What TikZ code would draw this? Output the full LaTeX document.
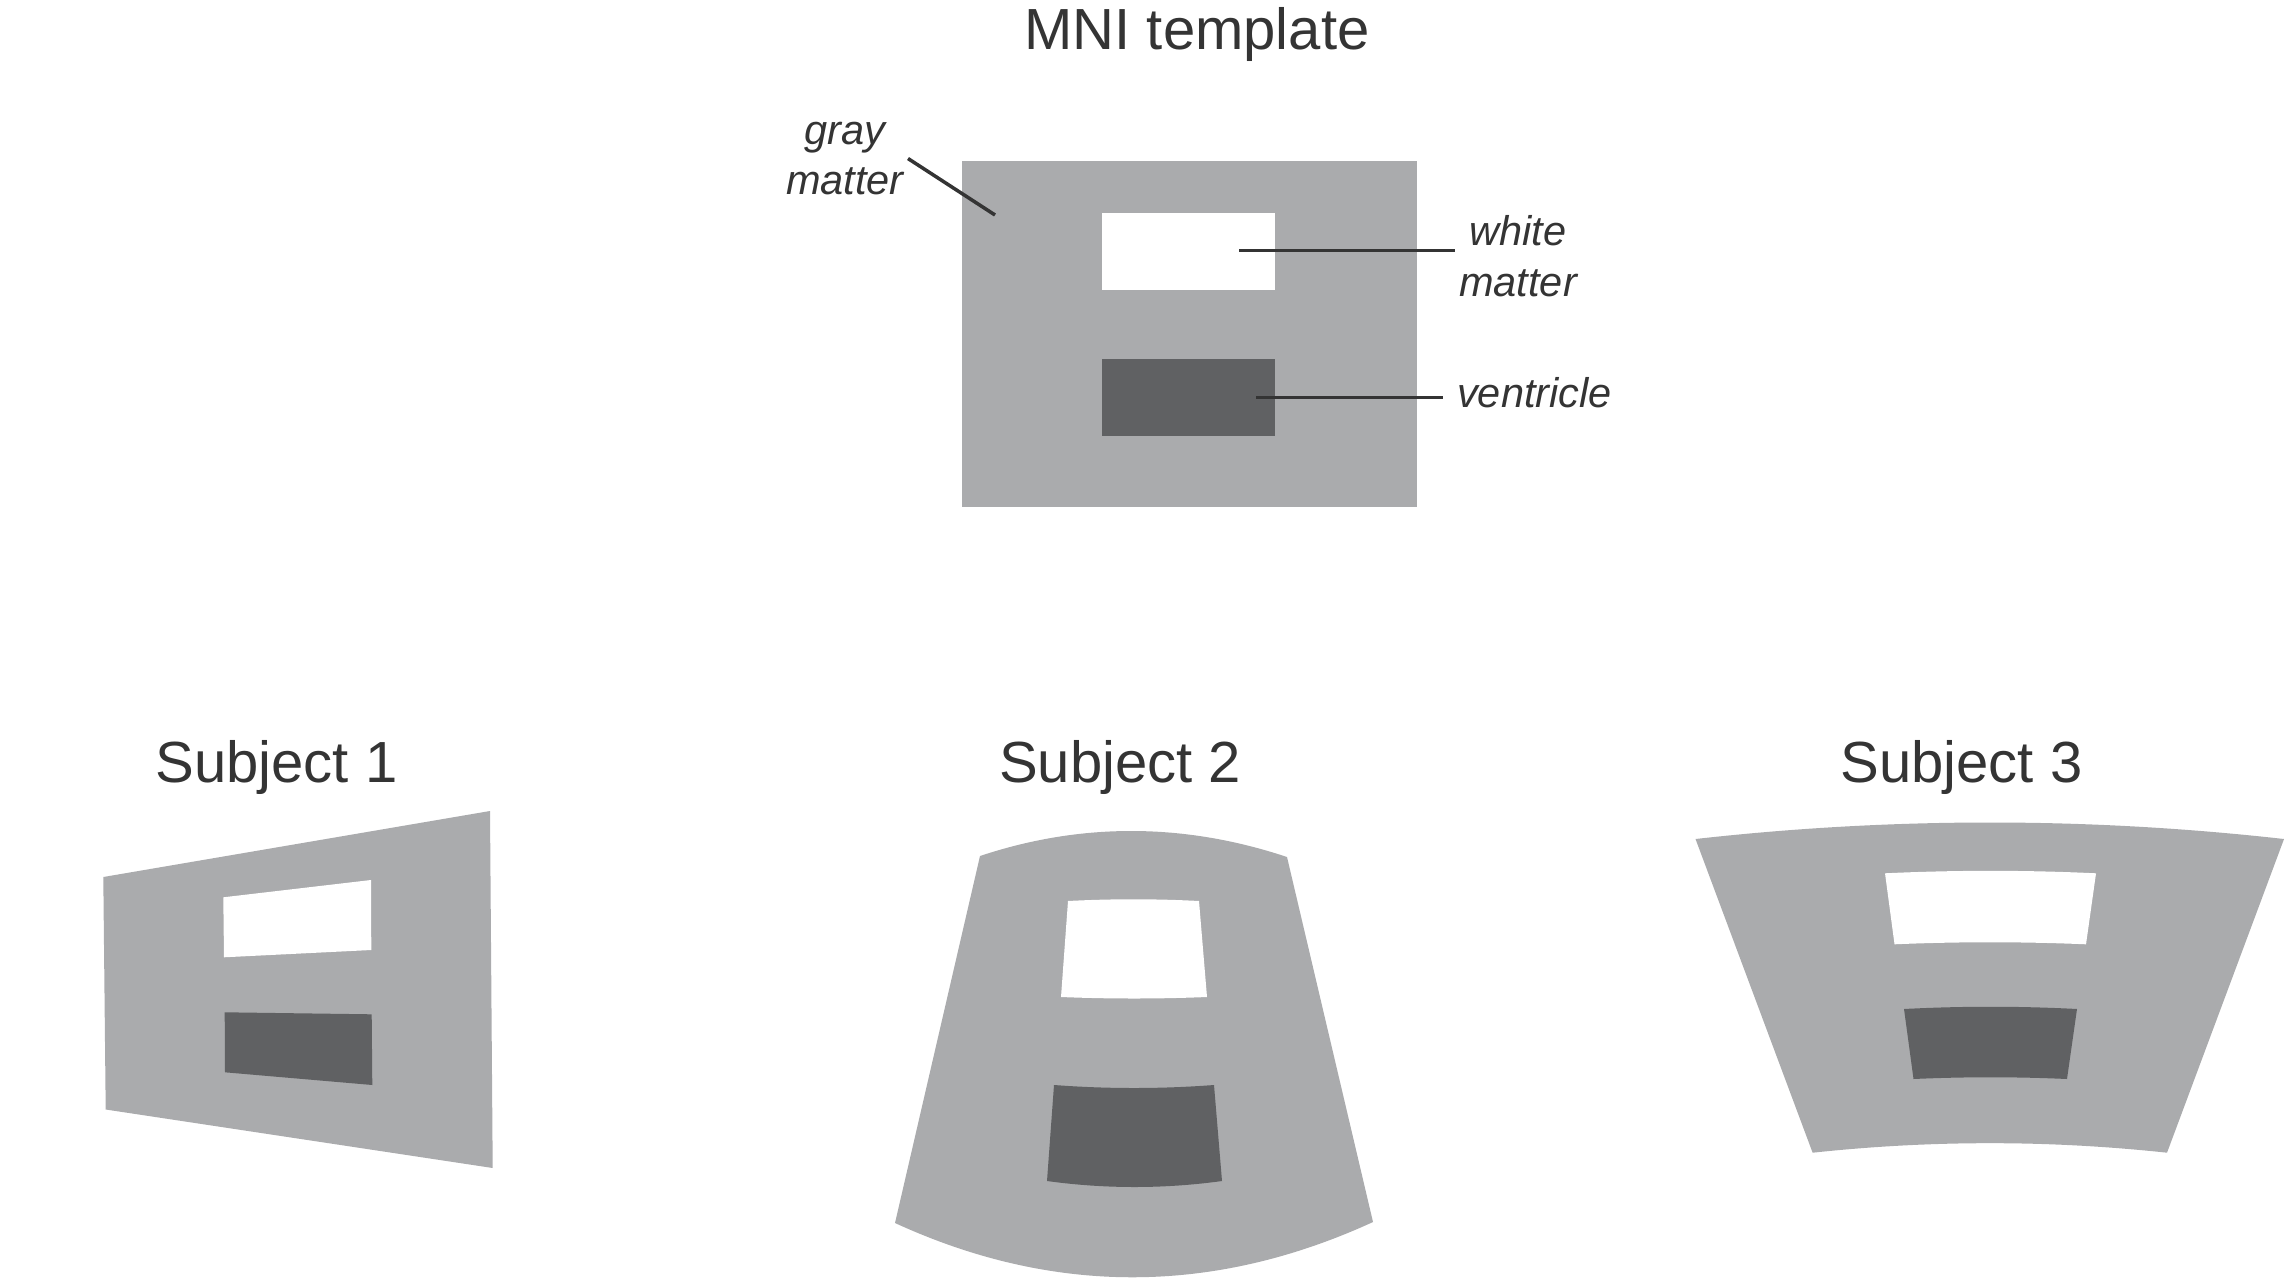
\documentclass[tikz,border=0pt]{standalone}
\usepackage{fontspec}
\setmainfont{Liberation Sans}
\definecolor{gmgray}{RGB}{170,171,173}
\definecolor{vtgray}{RGB}{96,97,99}
\definecolor{ink}{RGB}{52,52,52}
\tikzset{
  gmfill/.style={fill=gmgray},
  wmfill/.style={fill=white},
  vtfill/.style={fill=vtgray},
  heading/.style={font=\fontsize{16.5}{19.8}\selectfont, text=ink, inner sep=0pt, anchor=base},
  tag/.style={font=\fontsize{11.8}{14.5}\selectfont\itshape, text=ink, inner sep=1pt, align=center},
  leader/.style={draw=ink, line width=1pt}
}
\begin{document}
\begin{tikzpicture}[x=0.01cm, y=-0.01cm]
    \useasboundingbox (0, 0) rectangle (2285, 1279);

    % template
    \node[heading] (mni) at (1197, 50) {MNI template};
    \fill[gmfill] (962, 161) rectangle (1417, 507);
    \fill[wmfill] (1102, 213) rectangle (1275, 290);
    \fill[vtfill] (1102, 359) rectangle (1275, 436);

    \node[tag, anchor=base] (gmtag) at (845, 195) {gray\\matter};
    \node[tag, anchor=base] (wmtag) at (1518, 296) {white\\matter};
    \node[tag, anchor=base west] (vttag) at (1453, 407) {ventricle};
    \coordinate (gmtip) at (995, 215);
    \coordinate (wmtip) at (1239, 250.7);
    \coordinate (vttip) at (1256, 397.7);
    \draw[leader] (gmtip) -- (gmtag.east);
    \draw[leader] (wmtip) -- (wmtip -| wmtag.west);
    \draw[leader, shorten >=1mm] (vttip) -- (vttip -| vttag.west);

    % subject 1
    \node[heading] (sub1) at (276.5, 782) {Subject 1};
    \fill[gmfill] (103.3, 877) -- (490, 811) -- (492.7, 1168) -- (105.7, 1109.5) -- cycle;
    \fill[wmfill] (223.3, 897.3) -- (371, 880) -- (371.3, 950) -- (224, 957.3) -- cycle;
    \fill[vtfill] (224.7, 1012.3) -- (371.7, 1014.3) -- (372.3, 1085) -- (225, 1072.3) -- cycle;

    % subject 2
    \node[heading] (sub2) at (1120, 782) {Subject 2};
    \fill[gmfill] (980, 856) .. controls (1082, 822) and (1185, 823) .. (1287, 857)
        -- (1373, 1222) .. controls (1214, 1295) and (1054, 1296) .. (895, 1223) -- cycle;
    \fill[wmfill] (1068, 901) .. controls (1112, 898.7) and (1155, 898.7) .. (1199, 901)
        -- (1207, 997) .. controls (1158, 999) and (1110, 999) .. (1061, 997) -- cycle;
    \fill[vtfill] (1054, 1085) .. controls (1107, 1089) and (1161, 1089) .. (1214, 1085)
        -- (1222, 1181) .. controls (1164, 1189) and (1105, 1189) .. (1047, 1181) -- cycle;

    % subject 3
    \node[heading] (sub3) at (1961.5, 782) {Subject 3};
    \fill[gmfill] (1695.5, 839) .. controls (1892, 817) and (2088, 817) .. (2284, 839)
        -- (2167, 1152.7) .. controls (2049, 1140) and (1931, 1140) .. (1812.6, 1152.7) -- cycle;
    \fill[wmfill] (1885, 873.3) .. controls (1955, 870) and (2026, 870) .. (2096, 873.3)
        -- (2086, 944.3) .. controls (2022, 941.6) and (1958, 941.6) .. (1894.5, 944.3) -- cycle;
    \fill[vtfill] (1904, 1009) .. controls (1962, 1006) and (2019, 1006) .. (2077, 1009)
        -- (2067, 1079) .. controls (2016, 1076.7) and (1965, 1076.7) .. (1913.5, 1079) -- cycle;
\end{tikzpicture}
\end{document}
